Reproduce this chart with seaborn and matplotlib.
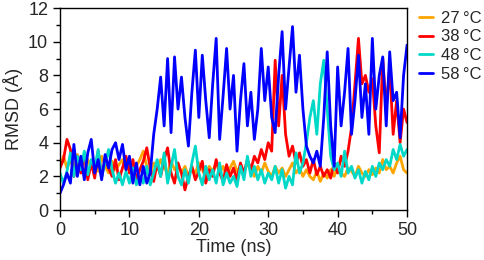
import numpy as np
import pandas as pd
import seaborn as sns
import matplotlib
matplotlib.use("Agg")
import matplotlib.pyplot as plt
from matplotlib.ticker import MultipleLocator

# time axis, one reading every 0.5 ns
time_ns = np.arange(0, 50.5, 0.5)

rmsd_27 = [2.6, 3.2, 2.5, 3.0, 2.4, 3.3, 2.6, 2.2, 3.0, 2.5, 2.8, 2.3, 3.2, 2.6, 2.2, 2.9, 2.4, 2.7, 3.0, 2.4,
           2.8, 2.2, 2.6, 3.0, 3.5, 2.6, 2.2, 2.8, 2.4, 3.0, 2.5, 2.2, 2.9, 2.4, 2.7, 2.2, 2.6, 2.0, 2.5, 2.2,
           2.8, 2.4, 2.0, 2.6, 2.3, 2.8, 2.2, 2.6, 2.0, 2.5, 2.9, 2.3, 2.6, 2.2, 2.8, 2.4, 2.0, 2.6, 2.2, 2.8,
           2.3, 2.0, 2.6, 2.2, 2.5, 2.0, 2.4, 2.8, 2.2, 2.5, 2.0, 2.4, 2.0, 1.8, 2.3, 1.7, 2.2, 1.9, 2.4, 2.0,
           2.6, 2.2, 2.0, 2.5, 2.3, 2.0, 2.6, 2.2, 2.0, 2.4, 2.1, 2.5, 2.2, 3.0, 2.4, 2.6, 2.2, 2.8, 3.2, 2.4,
           2.2]

rmsd_38 = [2.5, 3.0, 4.2, 3.6, 2.0, 3.0, 2.2, 3.3, 1.8, 2.8, 1.9, 3.5, 2.0, 3.0, 2.5, 2.0, 3.0, 1.8, 2.5, 3.2,
           2.2, 3.0, 1.8, 2.4, 2.9, 3.7, 2.5, 1.7, 2.8, 2.0, 3.0, 3.7, 2.2, 1.6, 2.8, 2.2, 1.2, 2.0, 2.6, 1.8,
           2.3, 2.9, 1.6, 2.4, 2.0, 3.0, 2.2, 1.7, 2.7, 2.0, 2.5, 1.8, 2.8, 2.2, 3.0, 2.4, 3.2, 2.8, 3.6, 3.0,
           4.0, 3.5, 8.9, 5.0, 8.0, 4.5, 3.2, 3.8, 2.8, 3.4, 2.6, 3.0, 2.2, 3.0, 2.1, 2.6, 2.0, 2.4, 1.9, 2.8,
           2.2, 3.2, 2.6, 3.5, 4.9, 7.5, 10.2, 7.5, 8.0, 7.0, 7.8, 5.0, 3.4, 9.0, 6.0, 8.5, 4.5, 6.5, 4.0, 6.0,
           5.2]

rmsd_48 = [2.2, 1.6, 2.3, 3.4, 2.0, 3.2, 2.4, 3.5, 2.1, 3.0, 2.5, 3.6, 2.0, 2.8, 3.6, 2.4, 1.6, 2.2, 1.5, 2.3,
           1.6, 2.5, 1.5, 2.0, 1.6, 2.6, 1.5, 2.2, 3.0, 2.0, 3.4, 1.6, 2.6, 3.6, 2.0, 1.5, 2.4, 1.6, 2.8, 3.8,
           2.2, 1.5, 2.6, 1.8, 2.4, 1.6, 2.8, 1.5, 2.2, 1.6, 2.0, 1.4, 2.6, 1.8, 3.2, 2.0, 2.6, 1.8, 2.4, 1.6,
           2.2, 1.8, 2.6, 1.6, 2.4, 1.3, 2.0, 1.5, 3.4, 2.2, 2.8, 4.0, 5.5, 6.5, 4.5, 7.5, 8.9, 6.0, 3.2, 2.4,
           2.8, 2.0, 3.5, 2.2, 2.6, 1.9, 2.4, 1.6, 2.3, 1.8, 2.6, 2.0, 2.8, 2.4, 3.0, 2.6, 3.6, 3.0, 3.9, 3.2,
           3.6]

rmsd_58 = [1.0, 1.5, 2.2, 1.6, 3.9, 2.0, 3.2, 1.8, 3.4, 4.2, 2.2, 3.0, 1.8, 3.3, 2.5, 3.6, 4.0, 3.0, 3.9, 2.4,
           3.2, 1.6, 2.8, 1.5, 2.6, 1.6, 2.2, 4.5, 6.0, 7.9, 5.0, 9.0, 4.6, 9.1, 6.0, 7.9, 5.5, 3.8, 7.0, 9.5,
           5.5, 9.2, 6.5, 4.3, 7.5, 10.2, 4.2, 6.8, 9.6, 6.0, 8.0, 3.5, 6.5, 8.7, 5.0, 7.0, 4.2, 6.0, 9.6, 6.5,
           8.5, 5.5, 4.6, 8.0, 10.6, 6.0, 8.5, 10.9, 7.0, 9.2, 6.0, 3.8, 3.2, 2.8, 3.5, 2.6, 5.5, 9.4, 5.0, 2.6,
           8.5, 5.0, 7.0, 9.6, 4.5, 6.5, 9.2, 5.5, 7.5, 4.5, 10.2, 6.0, 8.0, 9.1, 5.0, 9.4, 6.5, 7.0, 4.3, 8.0,
           9.8]

labels = ["27\u2009°C", "38\u2009°C", "48\u2009°C", "58\u2009°C"]
colors = ["#ffa500", "#ff0000", "#00d8c8", "#0000ff"]

frames = []
for lab, vals in zip(labels, [rmsd_27, rmsd_38, rmsd_48, rmsd_58]):
    frames.append(pd.DataFrame({"time": time_ns, "rmsd": vals, "temp": lab}))
df = pd.concat(frames, ignore_index=True)

sns.set_theme(style="ticks")
plt.rcParams["font.family"] = ["Liberation Sans", "DejaVu Sans"]

fig = plt.figure(figsize=(4.84, 2.6), dpi=100)
ax = fig.add_axes([0.124, 0.192, 0.717, 0.777])

sns.lineplot(data=df, x="time", y="rmsd", hue="temp", palette=colors,
             hue_order=labels, linewidth=2.0, ax=ax)

ax.set_xlim(0, 50)
ax.set_ylim(0, 12)
ax.xaxis.set_major_locator(MultipleLocator(10))
ax.xaxis.set_minor_locator(MultipleLocator(5))
ax.yaxis.set_major_locator(MultipleLocator(2))
ax.yaxis.set_minor_locator(MultipleLocator(1))
ax.tick_params(which="major", direction="out", length=5, width=1, labelsize=13, color="black")
ax.tick_params(which="minor", direction="out", length=3, width=1, color="black")
for s in ax.spines.values():
    s.set_color("black")
    s.set_linewidth(1)

ax.set_xlabel("Time (ns)", fontsize=13, labelpad=0)
ax.set_ylabel("RMSD (Å)", fontsize=13, labelpad=4)

ax.legend(loc="upper left", bbox_to_anchor=(1.015, 1.02), frameon=False,
          fontsize=12, handlelength=0.85, handletextpad=0.5, labelspacing=0.22,
          borderaxespad=0.0, borderpad=0.4)

fig.savefig("out.png", dpi=100)
